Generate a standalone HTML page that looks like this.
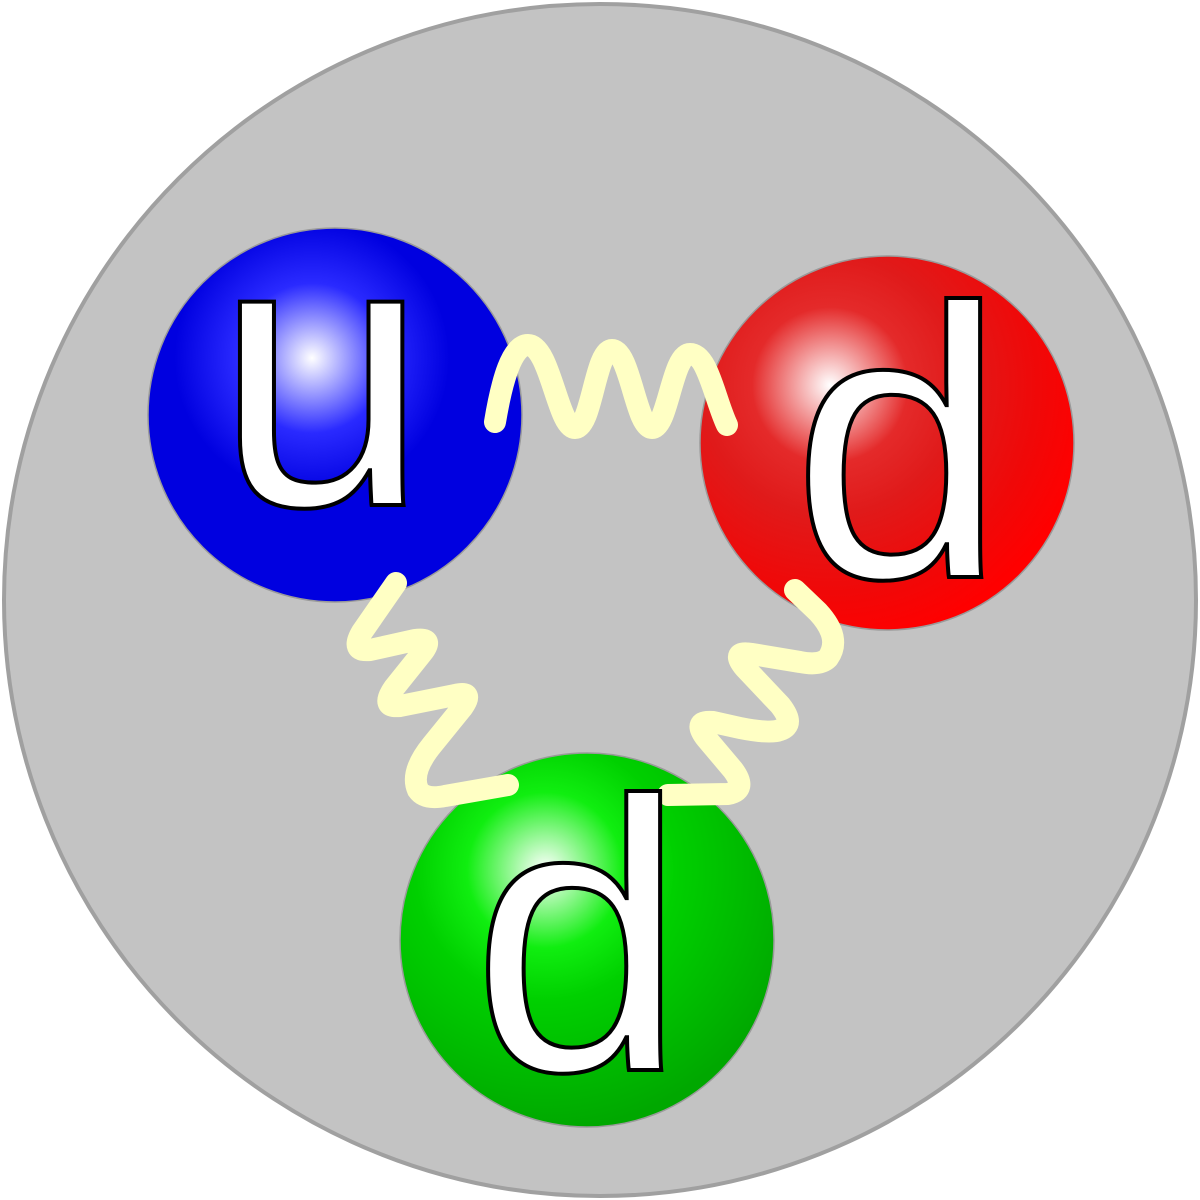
<!DOCTYPE html>
<html><head><meta charset="utf-8"><style>html,body{margin:0;padding:0;background:#fff;}svg{display:block}</style></head>
<body>
<svg width="1200" height="1200" viewBox="0 0 1200 1200" xmlns="http://www.w3.org/2000/svg">
<defs>
<radialGradient id="hb" cx="312" cy="358" r="250" gradientUnits="userSpaceOnUse">
<stop offset="0" stop-color="#ffffff"/><stop offset="0.3" stop-color="#2a2aff"/><stop offset="0.55" stop-color="#0000e0"/><stop offset="1" stop-color="#0000e0"/></radialGradient>
<radialGradient id="hr" cx="830" cy="385" r="260" gradientUnits="userSpaceOnUse">
<stop offset="0" stop-color="#ffffff"/><stop offset="0.3" stop-color="#e42a2a"/><stop offset="0.5" stop-color="#e01a1a"/><stop offset="0.8" stop-color="#f00808"/><stop offset="1" stop-color="#ff0000"/></radialGradient>
<radialGradient id="hg" cx="545" cy="870" r="260" gradientUnits="userSpaceOnUse">
<stop offset="0" stop-color="#ffffff"/><stop offset="0.3" stop-color="#10ee10"/><stop offset="0.5" stop-color="#00d000"/><stop offset="1" stop-color="#00a800"/></radialGradient>
</defs>
<circle cx="600" cy="600" r="596" fill="#c3c3c3" stroke="#a0a0a0" stroke-width="4"/>
<circle cx="335" cy="415" r="187" fill="url(#hb)" stroke="#9a9a9a" stroke-width="1.5"/>
<circle cx="887" cy="443" r="187" fill="url(#hr)" stroke="#9a9a9a" stroke-width="1.5"/>
<circle cx="587" cy="940" r="187" fill="url(#hg)" stroke="#9a9a9a" stroke-width="1.5"/>
<g fill="none" stroke="#ffffc4" stroke-width="22" stroke-linecap="round" stroke-linejoin="round">
<path d="M495,422 C502,380 512,345 528,345 C550,345 558,428 575,428 C592,428 595,350 612,350 C630,350 636,428 652,428 C668,428 672,354 690,354 C708,354 715,400 727,425"/>
<path d="M396,583 L362,632 Q350,652 370,650 L415,640 Q435,637 422,653 L394,688 Q380,708 400,706 L455,695 Q475,690 462,708 L432,745 Q410,772 418,790 Q425,800 445,796 L508,785"/>
<path d="M795,590 L818,612 Q842,638 828,658 Q820,666 800,662 L752,654 Q730,650 745,668 L780,705 Q796,725 780,730 Q770,734 740,728 L713,722 Q692,720 706,738 L733,770 Q748,790 728,794 L668,795"/>
</g>
<g font-family="Liberation Sans, sans-serif" font-size="385" fill="#ffffff" stroke="#000" stroke-width="4" text-anchor="middle">
<text x="322" y="505">u</text>
<text x="899" y="577">d</text>
<text x="579" y="1070">d</text>
</g>
</svg>
</body></html>
